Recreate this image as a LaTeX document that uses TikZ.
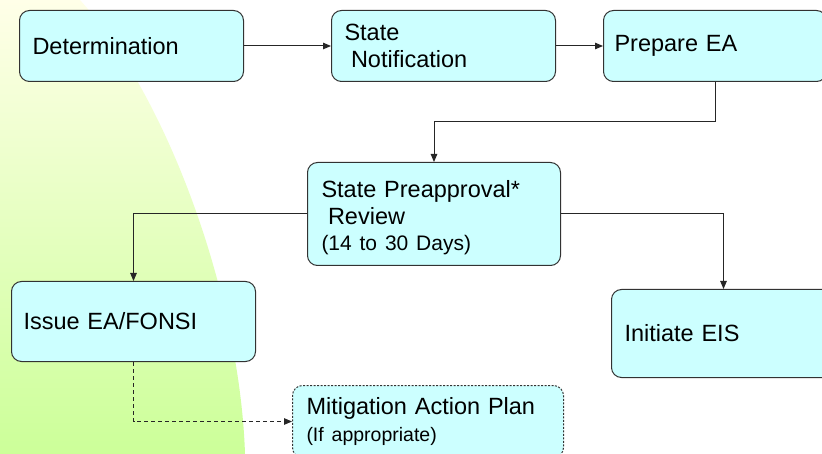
\documentclass[tikz,border=0pt]{standalone}
\usepackage{fontspec}
\setmainfont{Liberation Sans}
\usetikzlibrary{arrows.meta}
\definecolor{boxfill}{RGB}{204,255,255}
\definecolor{boxline}{RGB}{50,50,50}
\definecolor{bgtop}{RGB}{255,255,232}
\definecolor{bgbot}{RGB}{204,255,153}
\newcommand\bigf{\fontsize{23.5}{27}\selectfont}
\newcommand\smallf{\fontsize{21}{26}\selectfont}
\newcommand\smallerf{\fontsize{19.5}{26}\selectfont}
\tikzset{
  box/.style={draw=boxline, line width=1pt, fill=boxfill, rounded corners=10pt,
    anchor=north west, align=left, inner ysep=0pt, font=\bigf},
  conn/.style={draw=black!85, line width=1pt, -{Triangle[length=8pt,width=6.5pt]}},
  dconn/.style={conn, dash pattern=on 4pt off 3pt},
}
\begin{document}
\begin{tikzpicture}[x=1pt,y=-1pt]
\useasboundingbox (0,0) rectangle (822,454);
\clip (0,0) rectangle (822,454);
\fill[white] (0,0) rectangle (822,454);
% background shape
\shade[top color=bgtop, bottom color=bgbot]
  (0,0) -- (80,0) .. controls (170,100) and (240,300) .. (245,454) -- (0,454) -- cycle;

\node[box, inner xsep=13pt, text width=198pt, minimum height=71pt] (det) at (19,10) {Determination};
\node[box, inner xsep=13pt, text width=198pt, minimum height=71pt] (notif) at (331,10) {State\\\hspace*{6.5pt}Notification};
\node[box, inner xsep=11pt, text width=201pt, minimum height=71pt] (prep) at (603,10) {Prepare EA};
\node[box, inner xsep=14pt, text width=225pt, minimum height=103pt] (pre) at (307,162)
  {\rule{0pt}{24.5pt}State Preapproval*\\\hspace*{6.5pt}Review\\[-1pt]{\smallf (14 to 30 Days)}};
\node[box, inner xsep=12pt, text width=220pt, minimum height=80pt] (fonsi) at (11,281) {Issue EA/FONSI};
\node[box, inner xsep=13pt, text width=198pt, minimum height=88pt] (eis) at (611,289) {Initiate EIS};
\node[box, dash pattern=on 2pt off 1.5pt, inner xsep=14pt, text width=243pt, minimum height=72pt] (mit) at (292,385)
  {Mitigation Action Plan\\{\smallerf (If appropriate)}};

\draw[conn] (det.east) -- (notif.west);
\draw[conn] (notif.east) -- (prep.west);
\draw[conn] (prep.south) -- ++(0,40) -| (pre.north);
\draw[conn] (pre.west) -| (fonsi.north);
\draw[conn] (pre.east) -| (eis.north);
\draw[dconn] (fonsi.south) |- (mit.west);
\end{tikzpicture}
\end{document}
